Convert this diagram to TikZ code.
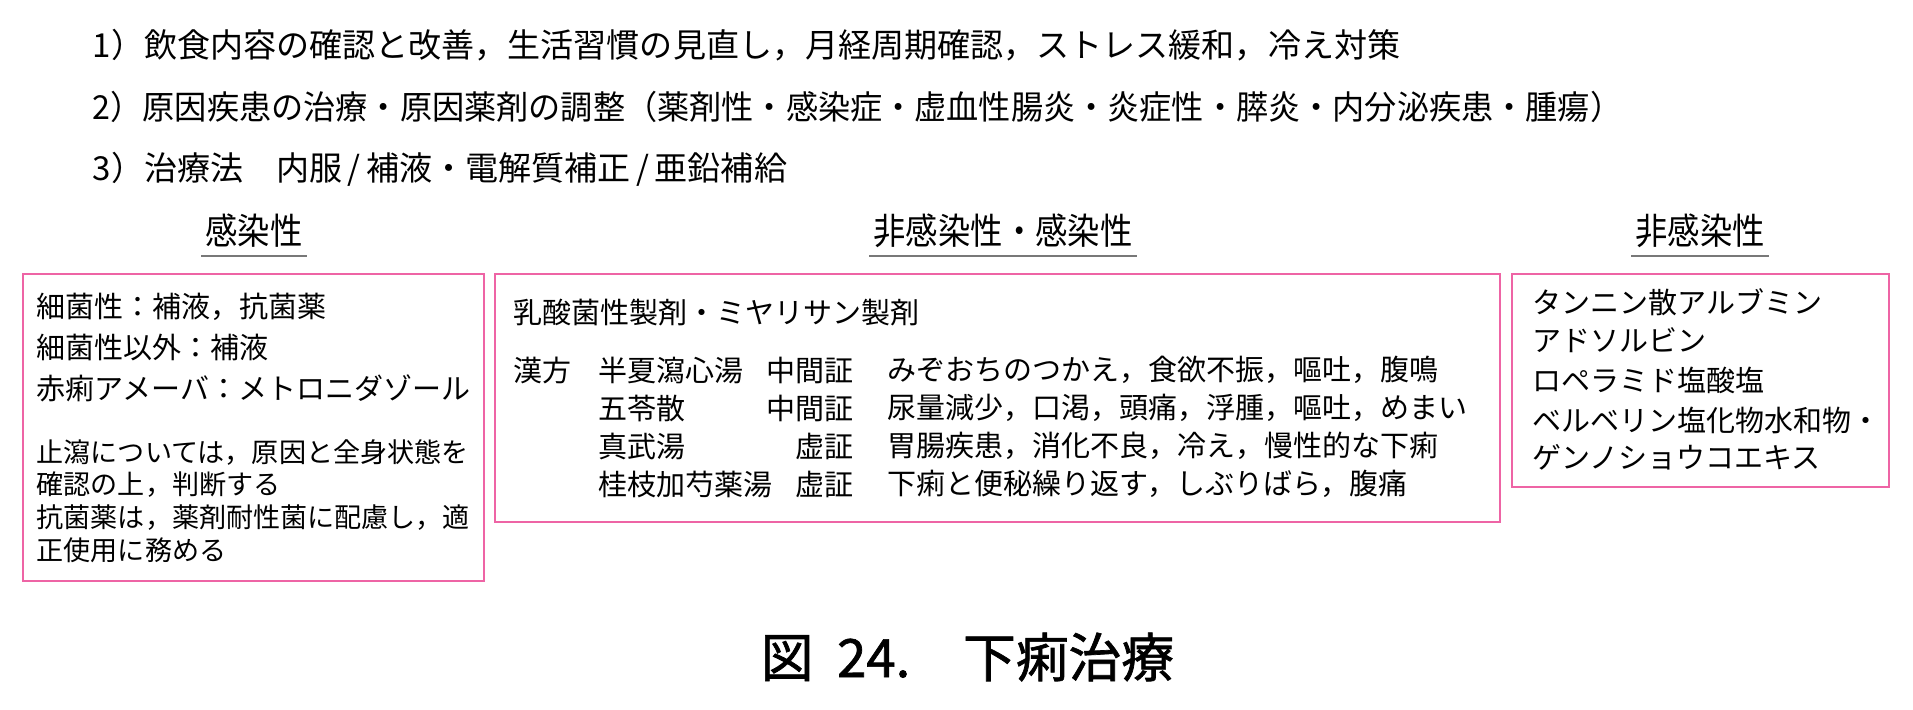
\documentclass[tikz,border=0pt]{standalone}
\usepackage{fontspec}
\setmainfont{Noto Sans CJK JP}
\newfontfamily\capfamily{Noto Sans CJK JP}[FakeBold=1.3]
\usepackage{graphicx}

\definecolor{boxpink}{RGB}{238,100,165}
\definecolor{rulegray}{RGB}{120,120,120}

\newcommand{\jptop}{\fontsize{9.4pt}{11pt}\selectfont}
\newcommand{\jphead}{\fontsize{9.2pt}{11pt}\selectfont}
\newcommand{\jpbox}{\fontsize{8.25pt}{10pt}\selectfont}
\newcommand{\jpnote}{\fontsize{7.7pt}{9pt}\selectfont}
\newcommand{\jpcap}{\capfamily\fontsize{15pt}{17pt}\selectfont}

\tikzstyle{item}=[anchor=west,inner sep=0pt]
\tikzstyle{grade}=[anchor=east,inner sep=0pt,font=\jpbox]
\tikzstyle{heading}=[inner xsep=1pt,inner ysep=2.2pt,font=\jphead]
\tikzstyle{underline}=[draw=rulegray,line width=0.6pt]
\tikzstyle{panel}=[draw=boxpink,line width=0.6pt]

\begin{document}
\begin{tikzpicture}[x=0.01cm, y=-0.01cm]
	\useasboundingbox (0,0) rectangle (1913,709);

	% treatment steps
	\node [item,font=\jptop] (step1) at (92,45) {1）飲食内容の確認と改善，生活習慣の見直し，月経周期確認，ストレス緩和，冷え対策};
	\node [item,font=\jptop] (step2) at (92,107) {\scalebox{0.973}[1]{2）原因疾患の治療・原因薬剤の調整（薬剤性・感染症・虚血性腸炎・炎症性・膵炎・内分泌疾患・腫瘍）}};
	\node [item,font=\jptop] (step3) at (92,169) {3）治療法　内服\,/\,補液・電解質補正\,/\,亜鉛補給};

	% headings
	\node [heading] (infect)    at (254,231)  {\scalebox{1}[1.12]{感染性}};
	\node [heading] (mixed)     at (1003,231) {\scalebox{1}[1.12]{非感染性・感染性}};
	\node [heading] (noninfect) at (1700,231) {\scalebox{1}[1.12]{非感染性}};
	\draw [underline] (infect.south west) -- (infect.south east);
	\draw [underline] (mixed.south west) -- (mixed.south east);
	\draw [underline] (noninfect.south west) -- (noninfect.south east);

	% panels
	\draw [panel] (23,274) rectangle (484,581);
	\draw [panel] (495,274) rectangle (1500,522);
	\draw [panel] (1512,274) rectangle (1889,487);

	% infectious
	\node [item,font=\jpbox] (bact)    at (36,307) {細菌性：補液，抗菌薬};
	\node [item,font=\jpbox] (nonbact) at (36,347) {細菌性以外：補液};
	\node [item,font=\jpbox] (amoeba)  at (36,388) {赤痢アメーバ：メトロニダゾール};
	\node [item,font=\jpnote] (note1) at (36,453) {止瀉については，原因と全身状態を};
	\node [item,font=\jpnote] (note2) at (36,485) {確認の上，判断する};
	\node [item,font=\jpnote] (note3) at (36,518) {抗菌薬は，薬剤耐性菌に配慮し，適};
	\node [item,font=\jpnote] (note4) at (36,550) {正使用に務める};

	% non-infectious / infectious
	\node [item,font=\jpbox] (lacto) at (513,313) {乳酸菌性製剤・ミヤリサン製剤};
	\node [item,font=\jpbox] (kampo) at (513,370) {漢方};
	\node [item,font=\jpbox] (herb1) at (598,370) {半夏瀉心湯};
	\node [item,font=\jpbox] (herb2) at (598,408) {五苓散};
	\node [item,font=\jpbox] (herb3) at (598,446) {真武湯};
	\node [item,font=\jpbox] (herb4) at (598,484) {桂枝加芍薬湯};
	\node [grade] (sho1) at (854,370) {中間証};
	\node [grade] (sho2) at (854,408) {中間証};
	\node [grade] (sho3) at (854,446) {虚証};
	\node [grade] (sho4) at (854,484) {虚証};
	\node [item,font=\jpbox] (symp1) at (887,370) {みぞおちのつかえ，食欲不振，嘔吐，腹鳴};
	\node [item,font=\jpbox] (symp2) at (887,408) {尿量減少，口渇，頭痛，浮腫，嘔吐，めまい};
	\node [item,font=\jpbox] (symp3) at (887,446) {胃腸疾患，消化不良，冷え，慢性的な下痢};
	\node [item,font=\jpbox] (symp4) at (887,484) {下痢と便秘繰り返す，しぶりばら，腹痛};

	% non-infectious
	\node [item,font=\jpbox] (drug1) at (1532,302) {タンニン散アルブミン};
	\node [item,font=\jpbox] (drug2) at (1532,340) {アドソルビン};
	\node [item,font=\jpbox] (drug3) at (1532,380) {ロペラミド塩酸塩};
	\node [item,font=\jpbox] (drug4) at (1532,420) {ベルベリン塩化物水和物・};
	\node [item,font=\jpbox] (drug5) at (1532,457) {ゲンノショウコエキス};

	% caption
	\node [item,font=\jpcap] (caption) at (760,657) {図\ \ 24.　下痢治療};
\end{tikzpicture}
\end{document}
